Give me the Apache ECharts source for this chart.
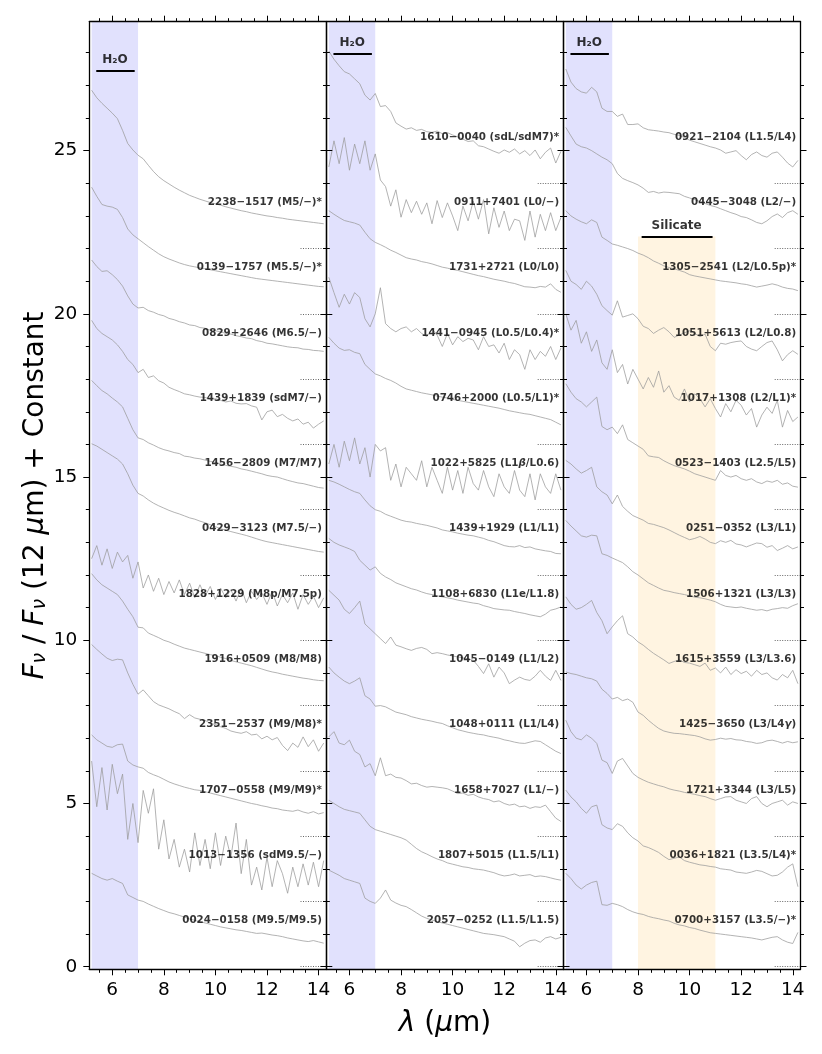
<!DOCTYPE html>
<html>
<head>
<meta charset="utf-8">
<script src="https://cdn.jsdelivr.net/npm/echarts@6/dist/echarts.min.js"></script>
<style>
html, body { margin: 0; padding: 0; background: #fff; }
#chart { width: 822px; height: 1054px; }
</style>
</head>
<body>
<div id="chart"></div>
<script>
// wavelength grid (micron), shared by every spectrum
const wave = [5.2, 5.4, 5.6, 5.8, 6.0, 6.2, 6.4, 6.6, 6.8, 7.0,
  7.2, 7.4, 7.6, 7.8, 8.0, 8.2, 8.4, 8.6, 8.8, 9.0,
  9.2, 9.4, 9.6, 9.8, 10.0, 10.2, 10.4, 10.6, 10.8, 11.0,
  11.2, 11.4, 11.6, 11.8, 12.0, 12.2, 12.4, 12.6, 12.8, 13.0,
  13.2, 13.4, 13.6, 13.8, 14.0, 14.2];

// ---- panel 1 (M dwarfs), top to bottom
const names1 = ['2238−1517 (M5/−)*', '0139−1757 (M5.5/−)*', '0829+2646 (M6.5/−)', '1439+1839 (sdM7/−)',
  '1456−2809 (M7/M7)', '0429−3123 (M7.5/−)', '1828+1229 (M8p/M7.5p)', '1916+0509 (M8/M8)',
  '2351−2537 (M9/M8)*', '1707−0558 (M9/M9)*', '1013−1356 (sdM9.5/−)', '0024−0158 (M9.5/M9.5)'];
const offsets1 = [22, 20, 18, 16, 14, 12, 10, 8, 6, 4, 2, 0];
// F_nu / F_nu(12um), before the constant is added
const flux1 = [
  [4.85,4.62,4.45,4.3,4.15,3.98,3.62,3.22,3.02,2.86, 2.75,2.55,2.36,2.2,2.08,1.98,1.88,1.79,1.71,1.63,
   1.57,1.51,1.46,1.41,1.37,1.33,1.28,1.24,1.2,1.16, 1.13,1.09,1.06,1.03,1.0,0.98,0.95,0.93,0.9,0.88, 0.86,0.84,0.82,0.8,0.78,0.76],
  [3.88,3.6,3.35,3.3,3.27,3.2,2.95,2.6,2.42,2.3, 2.18,2.06,1.95,1.84,1.75,1.68,1.62,1.56,1.51,1.47,
   1.44,1.41,1.38,1.35,1.32,1.29,1.26,1.23,1.2,1.17, 1.14,1.11,1.08,1.06,1.04,1.02,1.0,0.98,0.96,0.94, 0.92,0.9,0.88,0.86,0.84,0.83],
  [3.65,3.45,3.3,3.32,3.2,3.05,2.85,2.55,2.3,2.18, 2.2,2.1,2.05,1.98,1.94,1.86,1.82,1.76,1.72,1.66,
   1.64,1.58,1.56,1.5,1.48,1.45,1.4,1.38,1.33,1.3, 1.26,1.24,1.18,1.15,1.1,1.08,1.05,1.02,0.99,0.97, 0.96,0.92,0.91,0.88,0.87,0.85],
  [3.8,3.55,3.4,3.3,3.2,3.05,2.85,2.6,2.45,2.2, 2.3,2.05,2.1,1.95,1.88,1.75,1.68,1.62,1.55,1.52,
   1.48,1.45,1.44,1.38,1.4,1.35,1.3,1.33,1.26,1.24, 1.25,1.18,1.14,0.75,1.0,1.05,0.85,0.92,0.8,0.72, 0.78,0.62,0.68,0.5,0.62,0.72],
  [3.96,3.8,3.65,3.55,3.42,3.3,3.15,2.8,2.45,2.2, 2.15,2.05,1.98,1.9,1.84,1.8,1.75,1.72,1.64,1.62,
   1.58,1.56,1.52,1.48,1.45,1.4,1.36,1.33,1.3,1.25, 1.22,1.18,1.14,1.1,1.05,1.02,1.0,0.95,0.9,0.86, 0.82,0.8,0.76,0.72,0.68,0.66],
  [4.02,3.95,3.85,3.75,3.65,3.55,3.4,3.1,2.75,2.5, 2.42,2.3,2.2,2.12,2.05,1.98,1.92,1.87,1.81,1.75,
   1.71,1.65,1.6,1.54,1.48,1.42,1.37,1.33,1.29,1.25, 1.21,1.16,1.11,1.06,1.02,0.99,0.96,0.93,0.9,0.87, 0.84,0.81,0.78,0.75,0.72,0.7],
  [2.5,2.9,2.3,2.8,2.2,2.7,2.4,2.6,1.9,2.4, 1.6,2.0,1.5,1.9,1.4,1.8,1.45,1.85,1.4,1.75,
   1.3,1.7,1.35,1.65,1.25,1.6,1.3,1.55,1.2,1.6, 1.15,1.5,1.25,1.45,1.1,1.5,1.05,1.4,1.15,1.45, 0.95,1.4,1.1,1.35,1.0,1.3],
  [4.04,3.85,3.7,3.6,3.5,3.4,3.2,2.95,2.72,2.4, 2.38,2.22,2.15,2.08,2.0,1.95,1.88,1.82,1.76,1.72,
   1.68,1.64,1.6,1.56,1.53,1.48,1.44,1.38,1.34,1.3, 1.26,1.22,1.17,1.12,1.07,1.03,1.0,0.96,0.93,0.9, 0.87,0.84,0.82,0.79,0.77,0.76],
  [3.87,3.72,3.58,3.45,3.38,3.42,3.4,3.0,2.65,2.35, 2.48,2.3,2.12,2.02,1.96,1.9,1.82,1.75,1.6,1.72,
   1.62,1.58,1.55,1.45,1.42,1.35,1.3,1.22,1.18,1.15, 1.2,1.1,1.12,0.98,1.06,0.95,1.02,0.78,0.62,0.85, 0.72,1.04,0.74,0.95,0.6,0.85],
  [3.1,2.95,2.85,2.75,2.72,2.8,2.82,2.3,2.18,2.12, 2.08,1.95,1.88,1.82,1.74,1.66,1.6,1.55,1.5,1.46,
   1.42,1.4,1.36,1.32,1.28,1.24,1.2,1.16,1.12,1.08, 1.04,1.0,0.97,0.93,0.9,0.86,0.84,0.8,0.78,0.76, 0.8,0.74,0.7,0.75,0.68,0.72],
  [4.3,2.9,4.1,2.8,4.2,3.3,3.9,1.9,3.0,1.8, 3.4,2.7,3.45,1.6,2.5,1.3,1.9,1.05,1.6,0.9,
   2.1,1.1,1.9,1.0,2.1,1.1,2.0,1.35,2.4,0.85, 1.9,0.5,1.05,0.35,1.35,0.45,1.25,0.85,0.25,1.05, 0.45,1.15,0.5,1.2,0.45,1.25],
  [2.86,2.78,2.7,2.65,2.7,2.62,2.55,2.2,2.12,2.04, 2.0,1.92,1.85,1.78,1.72,1.66,1.62,1.57,1.52,1.46,
   1.42,1.38,1.34,1.3,1.26,1.22,1.19,1.16,1.13,1.11, 1.08,1.05,1.02,1.03,1.0,0.97,0.95,0.92,0.88,0.85, 0.82,0.79,0.77,0.8,0.76,0.72]
];

// ---- panel 2 (early L)
const names2 = ['1610−0040 (sdL/sdM7)*', '0911+7401 (L0/−)', '1731+2721 (L0/L0)', '1441−0945 (L0.5/L0.4)*',
  '0746+2000 (L0.5/L1)*', '1022+5825 (L1β/L0.6)', '1439+1929 (L1/L1)', '1108+6830 (L1e/L1.8)',
  '1045−0149 (L1/L2)', '1048+0111 (L1/L4)', '1658+7027 (L1/−)', '1807+5015 (L1.5/L1)', '2057−0252 (L1.5/L1.5)'];
const offsets2 = [24, 22, 20, 18, 16, 14, 12, 10, 8, 6, 4, 2, 0];
const flux2 = [
  [4.05,3.8,3.6,3.42,3.35,3.2,3.05,2.7,2.55,2.75, 2.35,2.38,2.2,1.85,1.75,1.66,1.7,1.62,1.65,1.58,
   1.56,1.6,1.52,1.55,1.48,1.42,1.35,1.28,1.3,1.15, 1.12,1.05,0.98,0.92,1.02,0.95,1.05,0.9,1.0,0.85, 1.02,0.75,0.95,1.08,0.62,0.98],
  [2.5,3.3,2.6,3.4,2.4,3.2,2.6,3.3,2.4,2.9, 2.1,1.9,1.3,1.8,0.96,1.5,1.1,1.45,1.05,1.4,
   0.76,1.47,0.95,1.4,1.0,0.55,1.3,0.85,1.45,0.9, 1.5,0.45,1.25,0.65,1.15,0.55,0.9,0.85,0.25,1.15, 0.35,1.05,0.55,1.1,0.55,0.95],
  [3.16,3.05,2.95,2.86,2.82,2.78,2.72,2.5,2.3,2.19, 2.12,2.04,1.95,1.88,1.8,1.72,1.68,1.65,1.6,1.57,
   1.53,1.48,1.43,1.4,1.36,1.33,1.29,1.25,1.21,1.17, 1.14,1.1,1.06,1.03,1.0,0.96,0.93,0.88,0.83,0.82, 0.8,0.84,0.82,0.92,0.75,0.66],
  [3.12,2.65,2.2,2.6,2.3,2.65,2.5,1.85,1.6,2.0, 2.8,1.7,1.55,1.45,1.55,1.6,1.45,1.55,1.4,1.3,
   1.55,1.35,1.0,1.4,1.05,1.3,1.15,1.25,1.2,0.9, 1.3,1.0,1.05,0.8,1.1,0.6,0.9,0.75,0.3,0.9, 0.6,0.85,0.7,1.0,0.6,0.95],
  [3.28,3.1,2.95,2.88,2.9,2.82,2.78,2.45,2.3,2.16, 2.1,2.02,1.96,1.88,1.78,1.7,1.66,1.62,1.58,1.55,
   1.52,1.48,1.45,1.42,1.38,1.35,1.32,1.29,1.26,1.23, 1.2,1.17,1.14,1.11,1.07,1.03,1.0,0.97,0.94,0.92, 0.88,0.84,0.8,0.76,0.68,0.6],
  [1.4,2.0,1.3,2.1,1.5,2.2,1.4,1.9,1.0,2.0, 1.8,1.9,0.9,1.4,0.7,1.3,1.1,0.9,1.5,0.7,
   1.3,0.9,0.5,1.3,0.6,1.2,0.5,1.3,0.8,0.6, 1.2,0.7,0.4,1.1,0.7,0.5,1.2,0.6,0.4,1.1, 0.3,1.1,0.7,0.5,1.1,0.6],
  [2.9,2.85,2.78,2.7,2.62,2.55,2.5,2.3,2.12,2.0, 1.95,1.86,1.8,1.74,1.68,1.64,1.62,1.58,1.55,1.52,
   1.48,1.44,1.38,1.35,1.32,1.28,1.25,1.22,1.2,1.16, 1.12,1.06,1.02,0.96,0.9,0.87,0.86,0.9,0.84,0.86, 0.8,0.77,0.74,0.72,0.66,0.65],
  [3.12,3.0,2.92,2.86,2.8,2.72,2.45,2.3,2.15,2.25, 2.05,1.94,1.86,1.76,1.7,1.64,1.58,1.54,1.48,1.43,
   1.4,1.36,1.33,1.3,1.27,1.23,1.2,1.17,1.14,1.12, 1.06,1.02,0.97,0.95,0.93,0.92,0.88,0.85,0.82,0.78, 0.75,0.72,0.8,0.92,0.96,1.02],
  [3.53,3.38,3.23,2.95,2.82,3.0,3.2,2.5,2.35,2.2, 2.05,1.9,2.1,1.85,1.8,1.74,1.69,1.75,1.78,1.72,
   1.59,1.62,1.59,1.55,1.52,1.49,1.46,1.43,1.39,1.2, 0.98,1.28,0.87,1.18,1.0,0.67,0.78,0.87,0.8,0.77, 0.9,1.08,0.9,0.77,1.08,0.77],
  [3.18,3.0,2.87,2.75,2.67,2.75,2.85,2.3,2.2,1.98, 2.0,1.96,1.88,1.8,1.76,1.72,1.66,1.62,1.58,1.55,
   1.52,1.48,1.45,1.38,1.32,1.26,1.22,1.18,1.15,1.12, 1.1,1.06,1.03,1.0,0.95,0.92,0.88,0.85,0.84,0.88, 0.92,0.9,0.8,0.7,0.6,0.53],
  [3.04,3.2,2.85,2.8,2.94,2.6,2.5,2.12,2.22,1.85, 2.4,1.85,1.9,1.8,1.78,1.7,1.6,1.62,1.55,1.5,
   1.52,1.5,1.48,1.45,1.38,1.3,1.32,1.25,1.28,1.2, 1.15,1.12,1.05,1.08,1.0,0.95,0.98,0.9,0.92,0.85, 0.9,0.88,0.95,0.75,0.55,0.45],
  [3.1,3.0,2.9,2.82,2.78,2.74,2.7,2.5,2.3,2.2, 2.15,2.1,2.05,2.0,1.95,1.88,1.75,1.62,1.52,1.45,
   1.37,1.3,1.25,1.18,1.14,1.1,1.06,1.04,1.0,0.98, 0.96,0.92,0.88,0.82,0.78,0.8,0.84,0.78,0.8,0.82, 0.76,0.78,0.76,0.72,0.68,0.65],
  [2.96,2.88,2.8,2.7,2.65,2.6,2.55,2.1,2.0,1.94, 2.1,2.35,2.04,1.95,1.88,1.84,1.75,1.65,1.55,1.48,
   1.43,1.38,1.34,1.3,1.26,1.22,1.18,1.14,1.1,1.06, 1.02,1.0,0.98,0.95,0.92,0.85,0.78,0.61,0.72,0.8, 0.82,0.75,0.88,0.92,0.85,0.9]
];

// ---- panel 3 (L1.5 - L3.5)
const names3 = ['0921−2104 (L1.5/L4)', '0445−3048 (L2/−)', '1305−2541 (L2/L0.5p)*', '1051+5613 (L2/L0.8)',
  '1017+1308 (L2/L1)*', '0523−1403 (L2.5/L5)', '0251−0352 (L3/L1)', '1506+1321 (L3/L3)',
  '1615+3559 (L3/L3.6)', '1425−3650 (L3/L4γ)', '1721+3344 (L3/L5)', '0036+1821 (L3.5/L4)*', '0700+3157 (L3.5/−)*'];
const offsets3 = [24, 22, 20, 18, 16, 14, 12, 10, 8, 6, 4, 2, 0];
const flux3 = [
  [3.5,3.1,2.9,2.8,2.76,2.94,2.8,2.3,2.2,2.2, 2.05,2.12,1.8,1.8,1.82,1.7,1.64,1.62,1.6,1.57,
   1.55,1.5,1.47,1.4,1.32,1.27,1.22,1.17,1.12,1.08, 1.02,0.92,0.96,1.0,0.85,0.72,0.88,0.96,0.85,0.8, 0.92,0.96,0.8,0.62,0.5,0.7],
  [3.71,3.45,3.2,3.12,3.08,3.0,2.9,2.8,2.72,2.6, 2.3,2.15,2.08,2.02,1.95,1.85,1.72,1.75,1.7,1.73,
   1.72,1.7,1.68,1.6,1.55,1.5,1.44,1.38,1.32,1.28, 1.22,1.16,1.1,1.05,0.98,0.95,0.88,0.8,0.76,0.85, 0.98,1.06,0.95,1.1,1.16,1.05],
  [3.16,3.0,2.9,2.82,2.76,2.88,2.8,2.35,2.25,2.14, 2.1,2.05,2.0,1.94,1.86,1.8,1.72,1.62,1.55,1.47,
   1.42,1.38,1.33,1.28,1.2,1.16,1.13,1.1,1.07,1.04, 1.01,0.99,0.97,0.95,0.92,0.9,0.86,0.82,0.85,0.88, 0.92,0.88,0.82,0.78,0.76,0.71],
  [3.33,3.0,2.9,2.75,3.0,2.85,2.6,2.25,2.1,1.96, 2.4,1.9,1.95,2.0,1.85,1.62,1.55,1.4,1.5,1.58,
   1.45,1.28,1.35,1.42,1.48,1.4,1.3,1.38,1.0,0.87, 1.1,1.07,1.12,1.15,1.17,1.0,0.92,0.87,1.0,1.12, 1.17,0.9,0.56,0.75,0.87,0.76],
  [4.0,3.5,3.8,3.1,3.45,2.85,3.2,2.5,2.3,2.9, 2.2,2.45,1.85,2.3,2.0,1.7,2.05,1.75,2.25,1.6,
   1.8,1.45,1.35,1.7,1.3,1.55,1.4,1.15,1.4,1.1, 0.84,1.25,1.0,1.35,1.2,0.9,1.1,0.53,0.9,1.14, 0.95,1.35,0.53,1.04,0.7,0.84],
  [3.86,3.6,3.4,3.3,3.15,3.3,3.45,2.55,2.45,2.53, 2.33,2.6,2.15,2.05,1.95,1.85,1.65,1.62,1.6,1.5,
   1.42,1.35,1.3,1.25,1.18,1.1,1.05,1.0,0.95,0.9, 1.2,1.05,1.0,1.05,0.95,0.9,0.95,0.85,0.8,0.88, 0.84,0.9,0.78,0.82,0.72,0.69],
  [3.51,3.4,3.25,3.12,3.2,3.3,2.7,2.55,2.45,2.18, 2.45,2.1,1.95,1.82,1.75,1.68,1.58,1.55,1.5,1.45,
   1.38,1.3,1.22,1.15,1.08,1.12,1.18,1.1,1.0,0.96, 1.05,1.0,1.06,0.95,0.92,0.86,0.92,0.98,0.96,0.85, 0.9,0.75,0.82,0.9,0.8,0.86],
  [3.67,3.5,3.35,3.2,3.16,3.22,3.2,2.65,2.6,2.52, 2.45,2.38,2.25,2.1,2.0,1.88,1.76,1.68,1.6,1.53,
   1.5,1.46,1.43,1.4,1.36,1.32,1.3,1.27,1.23,1.18, 1.1,1.04,1.02,1.0,1.02,0.98,0.95,0.92,0.94,0.9, 0.95,0.97,1.0,0.98,1.06,1.12],
  [3.33,3.1,2.95,3.0,3.1,3.22,2.85,2.6,2.2,2.41, 2.6,2.75,2.2,2.1,1.95,1.85,1.72,1.6,1.5,1.4,
   1.29,1.35,1.4,1.32,1.3,1.25,1.2,1.3,1.08,1.15, 1.0,1.18,0.95,1.1,0.98,1.05,0.9,1.08,0.95,1.0, 0.85,0.78,0.95,0.85,1.08,0.67],
  [3.03,2.98,2.95,2.9,2.85,2.82,2.75,2.5,2.37,2.2, 2.25,2.15,2.2,2.1,1.8,1.7,1.55,1.42,1.3,1.22,
   1.18,1.15,1.14,1.12,1.1,1.08,1.04,0.98,0.94,0.96, 1.0,0.97,0.99,0.95,0.94,0.9,0.88,0.84,0.86,0.92, 0.94,0.9,0.85,0.9,0.86,0.89],
  [3.55,3.2,3.0,2.95,3.1,3.0,2.84,2.33,2.25,1.92, 2.3,2.38,2.15,1.92,1.8,1.72,1.65,1.6,1.55,1.51,
   1.45,1.41,1.38,1.34,1.31,1.28,1.24,1.21,1.15,1.1, 1.15,1.2,1.21,1.1,1.05,1.0,1.15,1.21,1.0,0.9, 1.0,1.05,1.1,0.95,1.05,1.0],
  [3.41,3.2,3.05,2.85,2.7,2.9,2.95,2.35,2.25,2.2, 2.38,2.3,2.1,1.95,1.85,1.7,1.65,1.58,1.5,1.38,
   1.28,1.32,1.36,1.25,1.2,1.16,1.12,1.1,1.07,1.05, 1.0,0.98,0.96,0.9,0.88,0.86,0.9,0.95,0.92,0.85, 0.78,0.8,0.9,1.05,1.15,0.45],
  [2.86,2.7,2.5,2.38,2.5,2.58,2.62,1.9,1.88,1.94, 1.9,1.84,1.75,1.68,1.63,1.6,1.54,1.5,1.47,1.43,
   1.4,1.33,1.28,1.25,1.2,1.17,1.12,1.08,1.04,1.02, 1.0,0.98,0.96,0.94,0.92,0.9,0.88,0.85,0.82,0.86, 0.9,0.92,0.82,0.75,0.71,1.05]
];

// tick values
const xMajor = [6, 8, 10, 12, 14];
const xMinor = [5.5, 6.5, 7, 7.5, 8.5, 9, 9.5, 10.5, 11, 11.5, 12.5, 13, 13.5];
const yMajor = [0, 5, 10, 15, 20, 25];
const yMinor = [1, 2, 3, 4, 6, 7, 8, 9, 11, 12, 13, 14, 16, 17, 18, 19, 21, 22, 23, 24, 26, 27, 28];

// feature bands
const waterBand = [5.2, 7.0];
const silicateBand = [8.0, 11.0, 22.37];

// layout
const xMin = 5.11, xMax = 14.3, yMin = -0.08, yMax = 28.95;
const gridLefts = [89.3, 326.5, 563.5];
const gridW = 237, gridTop = 21.7, gridH = 947.6;
const labelX = 14.15, labelDy = 1.4, dotX0 = 13.3;
const h2oAnno = [{ x0: 5.38, x1: 6.87, y: 27.45, ty: 27.78 },
                 { x0: 5.38, x1: 6.87, y: 27.96, ty: 28.28 },
                 { x0: 5.38, x1: 6.87, y: 27.96, ty: 28.28 }];
const silAnno = { x0: 8.14, x1: 10.89, y: 22.37, ty: 22.68 };

const FONT = 'DejaVu Sans';
const lineGrey = '#9a9a9a';
const blueFill = '#e1e1fd';
const orangeFill = '#fff4e1';

const panels = [
  { names: names1, offsets: offsets1, flux: flux1 },
  { names: names2, offsets: offsets2, flux: flux2 },
  { names: names3, offsets: offsets3, flux: flux3 }
];

function mkX(g, pos, ticks, len, withLabels) {
  return {
    type: 'value', gridIndex: g, position: pos, min: xMin, max: xMax, z: 10,
    axisLine: { show: len > 4, onZero: false, lineStyle: { color: '#000', width: 1.3 } },
    axisTick: { show: true, inside: false, length: len, customValues: ticks, lineStyle: { color: '#000', width: 1 } },
    axisLabel: { show: withLabels, customValues: xMajor, margin: 11, color: '#000', fontSize: 18.5, fontFamily: FONT },
    splitLine: { show: false }
  };
}
function mkY(g, pos, ticks, len, withLabels) {
  return {
    type: 'value', gridIndex: g, position: pos, min: yMin, max: yMax, z: 10,
    axisLine: { show: len > 4, onZero: false, lineStyle: { color: '#000', width: 1.3 } },
    axisTick: { show: true, inside: false, length: len, customValues: ticks, lineStyle: { color: '#000', width: 1 } },
    axisLabel: { show: withLabels, customValues: yMajor, margin: 12, color: '#000', fontSize: 18.5, fontFamily: FONT },
    splitLine: { show: false }
  };
}

const grid = [], xAxis = [], yAxis = [], series = [];

panels.forEach((p, g) => {
  grid.push({ left: gridLefts[g], top: gridTop, width: gridW, height: gridH });
  xAxis.push(mkX(g, 'bottom', xMajor, 6, true), mkX(g, 'bottom', xMinor, 3.5, false),
             mkX(g, 'top', xMajor, 6, false), mkX(g, 'top', xMinor, 3.5, false));
  yAxis.push(mkY(g, 'left', yMajor, 6, g === 0), mkY(g, 'left', yMinor, 3.5, false),
             mkY(g, 'right', yMajor, 6, false), mkY(g, 'right', yMinor, 3.5, false));

  const xi = 4 * g, yi = 4 * g;
  const areas = [[{ xAxis: waterBand[0], yAxis: yMin }, { xAxis: waterBand[1], yAxis: yMax }]];
  const bars = [[{ coord: [h2oAnno[g].x0, h2oAnno[g].y] }, { coord: [h2oAnno[g].x1, h2oAnno[g].y] }]];
  const annoText = [{ value: [(h2oAnno[g].x0 + h2oAnno[g].x1) / 2, h2oAnno[g].ty], name: 'H₂O' }];
  if (g === 2) {
    areas.push([{ xAxis: silicateBand[0], yAxis: yMin, itemStyle: { color: orangeFill } },
                { xAxis: silicateBand[1], yAxis: silicateBand[2] }]);
    bars.push([{ coord: [silAnno.x0, silAnno.y] }, { coord: [silAnno.x1, silAnno.y] }]);
    annoText.push({ value: [(silAnno.x0 + silAnno.x1) / 2, silAnno.ty], name: 'Silicate' });
  }

  // shaded bands + feature bars
  series.push({
    type: 'line', xAxisIndex: xi, yAxisIndex: yi, z: 1, silent: true, symbol: 'none',
    data: [[xMin, yMin]], lineStyle: { opacity: 0 },
    markArea: { silent: true, itemStyle: { color: blueFill }, label: { show: false }, data: areas },
    markLine: { silent: true, symbol: 'none', label: { show: false },
      lineStyle: { color: '#000', width: 2, type: 'solid' }, data: bars }
  });

  // spectra with their zero-level dotted ticks
  p.flux.forEach((f, i) => {
    const off = p.offsets[i];
    series.push({
      type: 'line', xAxisIndex: xi, yAxisIndex: yi, z: 2, silent: true, symbol: 'none',
      data: wave.map((w, k) => [w, f[k] + off]),
      lineStyle: { color: lineGrey, width: 0.75 },
      markLine: { silent: true, symbol: 'none', label: { show: false },
        lineStyle: { color: '#666', width: 1, type: [1, 1.5] },
        data: [[{ coord: [dotX0, off] }, { coord: [xMax, off] }]] }
    });
  });

  // object labels
  series.push({
    type: 'scatter', xAxisIndex: xi, yAxisIndex: yi, z: 5, silent: true,
    symbolSize: 1, itemStyle: { color: 'rgba(0,0,0,0)' },
    data: p.names.map((n, i) => ({ value: [labelX, p.offsets[i] + labelDy], name: n })),
    label: {
      show: true, position: [0, 0], align: 'right', verticalAlign: 'middle',
      formatter: d => d.name.replace(/([βγ])/g, '{g|$1}'),
      fontFamily: FONT, fontWeight: 'bold', fontSize: 10.3, color: '#000',
      rich: { g: { fontFamily: FONT, fontWeight: 'bold', fontStyle: 'italic', fontSize: 10.3, color: '#000' } }
    }
  });

  // feature names
  series.push({
    type: 'scatter', xAxisIndex: xi, yAxisIndex: yi, z: 5, silent: true,
    symbolSize: 1, itemStyle: { color: 'rgba(0,0,0,0)' },
    data: annoText,
    label: { show: true, position: [0, 0], align: 'center', verticalAlign: 'middle',
      formatter: d => d.name, fontFamily: FONT, fontWeight: 'bold', fontSize: 12, color: '#000' }
  });
});

// axis titles
Object.assign(yAxis[0], {
  name: '{i|F}{s|ν} / {i|F}{s|ν} (12 {i|μ}m) + Constant',
  nameLocation: 'middle', nameGap: 40,
  nameTextStyle: { fontSize: 28, fontFamily: FONT, color: '#000',
    rich: { i: { fontSize: 28, fontFamily: FONT, fontStyle: 'italic', color: '#000' },
            s: { fontSize: 19, fontFamily: FONT, fontStyle: 'italic', color: '#000', verticalAlign: 'bottom' } } }
});
Object.assign(xAxis[4], {
  name: '{i|λ} ({i|μ}m)',
  nameLocation: 'middle', nameGap: 40,
  nameTextStyle: { fontSize: 28, fontFamily: FONT, color: '#000',
    rich: { i: { fontSize: 28, fontFamily: FONT, fontStyle: 'italic', color: '#000' } } }
});

const chart = echarts.init(document.getElementById('chart'), null, { renderer: 'canvas' });
chart.setOption({
  animation: false,
  backgroundColor: '#fff',
  grid, xAxis, yAxis, series
});
</script>
</body>
</html>
